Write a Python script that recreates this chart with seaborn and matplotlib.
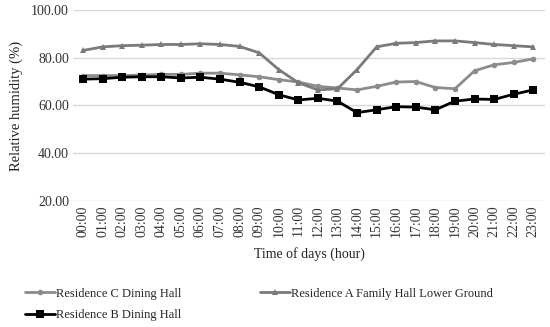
import matplotlib
matplotlib.use("Agg")
import matplotlib.pyplot as plt
import seaborn as sns
import pandas as pd

hours = [f"{h:02d}:00" for h in range(24)]
res_c = [72.5, 72.5, 72.5, 72.7, 73.0, 73.0, 73.5, 73.5, 72.8, 72.0, 70.8, 69.8,
         68.0, 67.3, 66.5, 68.0, 69.8, 70.0, 67.5, 67.0, 74.5, 77.0, 78.0, 79.5]
res_a = [83.0, 84.5, 85.0, 85.2, 85.5, 85.5, 85.8, 85.5, 84.7, 82.0, 75.0, 69.5,
         66.5, 67.0, 75.0, 84.5, 86.0, 86.3, 87.0, 87.0, 86.3, 85.5, 85.0, 84.5]
res_b = [71.0, 71.2, 71.8, 72.0, 72.0, 71.5, 71.8, 71.0, 69.7, 67.8, 64.5, 62.3,
         63.0, 61.8, 57.0, 58.2, 59.5, 59.3, 58.2, 61.8, 62.7, 62.5, 64.7, 66.5]
series_names = ["Residence C Dining Hall", "Residence A Family Hall Lower Ground",
                "Residence B Dining Hall"]

df = pd.DataFrame({
    "hour": hours * 3,
    "x": list(range(24)) * 3,
    "value": res_c + res_a + res_b,
    "series": [series_names[0]] * 24 + [series_names[1]] * 24 + [series_names[2]] * 24,
})

sns.set_theme(style="white")
plt.rcParams["font.family"] = ["Liberation Serif", "DejaVu Serif"]

fig = plt.figure(figsize=(5.5, 3.27), dpi=100)
ax = fig.add_axes([0.133, 0.385, 0.858, 0.585])

palette = {series_names[0]: "#8c8c8c", series_names[1]: "#7a7a7a", series_names[2]: "#000000"}
markers = {series_names[0]: "o", series_names[1]: "^", series_names[2]: "s"}
sizes = {series_names[0]: 4, series_names[1]: 4, series_names[2]: 6}

handles = {}
for name in series_names:
    sub = df[df["series"] == name]
    sns.lineplot(data=sub, x="x", y="value", ax=ax, color=palette[name],
                 marker=markers[name], markersize=sizes[name], linewidth=2,
                 markeredgewidth=0, label=name)
    handles[name] = ax.get_lines()[-1]

ax.set_ylim(20, 100)
ax.set_xlim(-0.5, 23.6)
ax.set_yticks([20, 40, 60, 80, 100])
ax.set_yticklabels([f"{v:.2f}" for v in [20, 40, 60, 80, 100]], fontsize=10)
ax.set_xticks(range(24))
ax.set_xticklabels(hours, rotation=90, fontsize=10)
ax.grid(axis="y", color="#d9d9d9", linewidth=1)
for s in ax.spines.values():
    s.set_visible(False)
ax.tick_params(axis="both", length=0, pad=3, colors="#333333")
ax.set_xlabel("Time of days (hour)", fontsize=10, color="#222222", labelpad=7)
ax.set_ylabel("Relative humidity (%)", fontsize=10.5, color="#222222", labelpad=6)

ax.get_legend().remove()
order = [series_names[0], series_names[2], series_names[1]]
fig.legend([handles[n] for n in order], order, loc="upper left",
           bbox_to_anchor=(0.045, 0.12), ncol=2, frameon=False, fontsize=9,
           handlelength=2.4, handletextpad=0.1, columnspacing=6.3,
           labelspacing=0.75, borderaxespad=0, borderpad=0)

fig.savefig("out.png", dpi=100)
